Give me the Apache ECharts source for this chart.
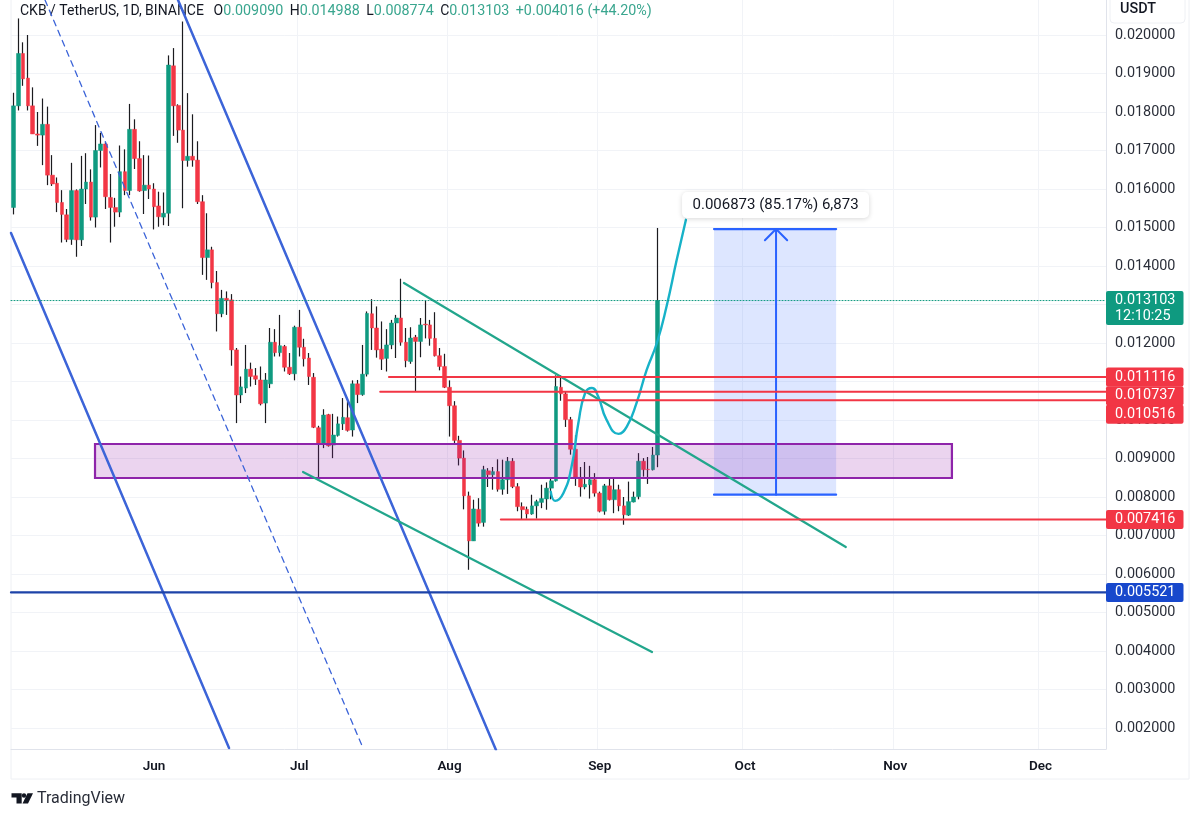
<!DOCTYPE html>
<html>
<head>
<meta charset="utf-8">
<title>CKB / TetherUS</title>
<script src="https://cdn.jsdelivr.net/npm/echarts@6/dist/echarts.min.js"></script>
<style>
html,body{margin:0;padding:0;background:#fff;}
#main{width:1200px;height:817px;}
</style>
</head>
<body>
<div id="main"></div>
<script>
// candles
var opens = [.01552,.01816,.01952,.01888,.01816,.01743,.01740,.01768,.01636,.01615,.01565,.01533,.01469,.01596,.01468,.01600,.01618,.01527,.01700,.01717,.01578,.01552,.01540,.01645,.01596,.01755,.01679,.01596,.01610,.01600,.01556,.01527,.01537,.01920,.01817,.01753,.01674,.01685,.01675,.01567,.01422,.01442,.01357,.01276,.01316,.01312,.01182,.01065,.01083,.01132,.01115,.01104,.01044,.01094,.01202,.01175,.01191,.01137,.01120,.01241,.01189,.01161,.01111,.00980,.00937,.01014,.00935,.00960,.00990,.01006,.00974,.01094,.01066,.01119,.01276,.01239,.01184,.01160,.01195,.01252,.01265,.01202,.01152,.01215,.01204,.01249,.01247,.01212,.01167,.01139,.01085,.01037,.00947,.00901,.00803,.00686,.00768,.00734,.00868,.00858,.00866,.00820,.00845,.00893,.00827,.00775,.00768,.00756,.00777,.00786,.00795,.00823,.00842,.01085,.01068,.01001,.00924,.00851,.00826,.00832,.00845,.00810,.00763,.00829,.00793,.00819,.00777,.00753,.00787,.00801,.00893,.00872,.00871,.009090];
var closes = [.01816,.01952,.01886,.01816,.01743,.01740,.01768,.01636,.01613,.01565,.01534,.01469,.01596,.01468,.01600,.01618,.01527,.01700,.01717,.01580,.01552,.01540,.01645,.01596,.01755,.01679,.01595,.01610,.01600,.01554,.01528,.01537,.01922,.01816,.01753,.01674,.01685,.01675,.01567,.01422,.01442,.01357,.01276,.01316,.01310,.01182,.01065,.01086,.01132,.01113,.01106,.01042,.01104,.01202,.01175,.01193,.01137,.01120,.01241,.01189,.01159,.01113,.00981,.00937,.01013,.00933,.00961,.00990,.01007,.00973,.01094,.01066,.01119,.01277,.01239,.01182,.01158,.01195,.01252,.01265,.01202,.01154,.01213,.01204,.01247,.01247,.01212,.01167,.01139,.01085,.01037,.00947,.00901,.00803,.00686,.00769,.00732,.00871,.00858,.00866,.00820,.00845,.00893,.00827,.00775,.00767,.00756,.00777,.00788,.00796,.00823,.00842,.01087,.01068,.01001,.00924,.00852,.00826,.00833,.00845,.00810,.00763,.00829,.00793,.00819,.00777,.00754,.00788,.00800,.00893,.00871,.00871,.00909,.013103];
var lows = [.01534,.01804,.01868,.01804,.01743,.01712,.01662,.01610,.01608,.01540,.01461,.01462,.01455,.01424,.01452,.01561,.01518,.01500,.01656,.01548,.01461,.01502,.01527,.01584,.01584,.01652,.01593,.01535,.01574,.01495,.01502,.01506,.01504,.01738,.01720,.01550,.01658,.01658,.01561,.01377,.01364,.01342,.01230,.01267,.01273,.01141,.00992,.01044,.01070,.01087,.01091,.01038,.00992,.01083,.01165,.01165,.01126,.01117,.01103,.01165,.01139,.01091,.00979,.00842,.00927,.00931,.00901,.00957,.00974,.00970,.00957,.01044,.01063,.01113,.01182,.01162,.01130,.01126,.01184,.01161,.01193,.01137,.01146,.01074,.01163,.01212,.01193,.01165,.01129,.01083,.00957,.00940,.00882,.00768,.00611,.00686,.00723,.00723,.00826,.00819,.00814,.00806,.00808,.00823,.00763,.00743,.00744,.00754,.00744,.00771,.00767,.00794,.00840,.01050,.00982,.00910,.00829,.00801,.00820,.00796,.00801,.00760,.00754,.00791,.00758,.00763,.00728,.00751,.00786,.00794,.00853,.00834,.00869,.008774];
var highs = [.01850,.02043,.01981,.02000,.01864,.01800,.01835,.01814,.01688,.01630,.01597,.01548,.01668,.01599,.01686,.01693,.01651,.01766,.01746,.01723,.01639,.01577,.01713,.01703,.01821,.01781,.01724,.01688,.01687,.01615,.01593,.01591,.01947,.01966,.01820,.02035,.01849,.01794,.01724,.01584,.01537,.01450,.01387,.01338,.01334,.01327,.01187,.01113,.01195,.01149,.01135,.01139,.01122,.01239,.01236,.01273,.01195,.01174,.01245,.01286,.01211,.01174,.01122,.00985,.01028,.01016,.01016,.01009,.01057,.01048,.01103,.01104,.01195,.01282,.01314,.01295,.01256,.01236,.01260,.01273,.01367,.01239,.01241,.01221,.01265,.01310,.01260,.01280,.01187,.01172,.01103,.01049,.00959,.00921,.00814,.00793,.00797,.00881,.00875,.00878,.00898,.00897,.00904,.00901,.00836,.00786,.00775,.00806,.00793,.00832,.00838,.00849,.01116,.01116,.01074,.01008,.00960,.00878,.00891,.00881,.00862,.00814,.00834,.00852,.00852,.00832,.00800,.00840,.00814,.00914,.00901,.00904,.00930,.014988];

var firstDay = '2024-05-03';
var dayCount = 226;
var monthNames = ['Jan','Feb','Mar','Apr','May','Jun','Jul','Aug','Sep','Oct','Nov','Dec'];
var yTicks = [.002,.003,.004,.005,.006,.007,.008,.009,.010,.011,.012,.013,.014,.015,.016,.017,.018,.019,.020];

// drawings, as [day index, price]
var channelLeft = [[-0.5,.014857],[44.5,.001481]];
var channelRight = [[33.97,.020909],[99.6,.00143]];
var channelMid = [[6.52,.020909],[72.15,.001481]];
var trendUpper = [[80.6,.013558],[171.8,.006701]];
var trendLower = [[59.77,.00865],[131.8,.003974]];
var cyanPath = [[110.9,.00814],[111.8,.0079],[113.5,.0081],[115.2,.00879],[116.6,.00992],[118,.0107],[119.4,.01083],[120.7,.01061],[122.4,.01001],[124.9,.00964],[126.6,.00983],[128.6,.01044],[130.7,.0113],[132.8,.012],[134.8,.01295],[136.9,.01416],[138.8,.0152]];

var redLevels = [.011116,.010737,.010516,.007416];
var redStarts = [77.5,75.7,114.3,100.6];
var blueLevel = .005521;
var lastPrice = .013103;

var zoneBox = [16.84,193.7,.009377,.008494];
var longBox = [144.6,169.8,.01496,.00806];
var arrowX = 157.4;
var arrowHead = [[155.1,.01467],[157.4,.01496],[159.7,.01467]];
var pillAt = [157.3,.015584];
var pillText = '0.006873 (85.17%) 6,873';

var tagPrices = [.010516,.010737,.011116,.007416,.005521];
var tagNudges = [14,4,0,0,0];
var tagColors = ['#f23645','#f23645','#f23645','#f23645','#1848cc'];

var upColor = '#0f9a80', downColor = '#f23645';
var uiFont = 'Roboto, Inter, sans-serif';

var days = [];
var d = new Date(firstDay + 'T00:00:00Z');
for (var i = 0; i < dayCount; i++) {
    days.push(d.toISOString().slice(0, 10));
    d.setUTCDate(d.getUTCDate() + 1);
}
function isMonthStart(idx, name) {
    return name.slice(8) === '01';
}

var wickData = [], bodyData = [];
for (var i = 0; i < opens.length; i++) {
    wickData.push([opens[i], closes[i], lows[i], highs[i]]);
    bodyData.push([opens[i], closes[i], Math.min(opens[i], closes[i]), Math.max(opens[i], closes[i])]);
}

// straight drawing on the hidden day-index axis
function drawing(points, color, width, type, smooth, z) {
    return {
        type: 'line', xAxisIndex: 1, yAxisIndex: 0, data: points, symbol: 'none', silent: true,
        smooth: smooth || false, z: z || 6, clip: true,
        lineStyle: {color: color, width: width, type: type || 'solid', cap: 'round'}
    };
}

function boxRender(fill, stroke, strokeWidth) {
    return function (params, api) {
        var a = api.coord([api.value(0), api.value(2)]);
        var b = api.coord([api.value(1), api.value(3)]);
        return {
            type: 'rect',
            shape: {x: a[0], y: a[1], width: b[0] - a[0], height: b[1] - a[1]},
            style: {fill: fill, stroke: stroke, lineWidth: strokeWidth}
        };
    };
}

function tagRender(params, api) {
    var p = api.coord([0, api.value(1)]);
    var left = params.coordSys.x + params.coordSys.width;
    var cy = p[1] + tagNudges[params.dataIndex];
    return {
        type: 'group',
        children: [
            {type: 'rect', shape: {x: left, y: cy - 9.5, width: 77.5, height: 19, r: 2}, style: {fill: tagColors[params.dataIndex]}},
            {type: 'text', style: {x: left + 9, y: cy, text: api.value(1).toFixed(6), fill: '#fff', font: '14.4px ' + uiFont, textVerticalAlign: 'middle'}}
        ]
    };
}

function lastTagRender(params, api) {
    var p = api.coord([0, api.value(1)]);
    var left = params.coordSys.x + params.coordSys.width;
    return {
        type: 'group',
        children: [
            {type: 'rect', shape: {x: left, y: p[1] - 9.5, width: 77.5, height: 34, r: 2}, style: {fill: upColor}},
            {type: 'text', style: {x: left + 9, y: p[1], text: api.value(1).toFixed(6), fill: '#fff', font: '14.4px ' + uiFont, textVerticalAlign: 'middle'}},
            {type: 'text', style: {x: left + 9, y: p[1] + 15.5, text: '12:10:25', fill: '#fff', font: '14.4px ' + uiFont, textVerticalAlign: 'middle'}}
        ]
    };
}

function pillRender(params, api) {
    var p = api.coord([api.value(0), api.value(1)]);
    return {
        type: 'group',
        children: [
            {type: 'rect', shape: {x: p[0] - 93.5, y: p[1] - 13, width: 187, height: 26, r: 5},
                style: {fill: '#fff', shadowBlur: 5, shadowColor: 'rgba(0,0,0,0.16)', shadowOffsetY: 1}},
            {type: 'text', style: {x: p[0], y: p[1], text: pillText, fill: '#131722', font: '15px ' + uiFont, textAlign: 'center', textVerticalAlign: 'middle'}}
        ]
    };
}

var series = [
    // black wicks under, coloured bodies on top
    {type: 'candlestick', data: wickData, barWidth: 1, z: 3, silent: true,
        itemStyle: {color: '#1b1b1f', color0: '#1b1b1f', borderColor: '#1b1b1f', borderColor0: '#1b1b1f', borderWidth: 1.2}},
    {type: 'candlestick', data: bodyData, barWidth: 4.2, z: 4, silent: true,
        itemStyle: {color: upColor, color0: downColor, borderColor: upColor, borderColor0: downColor, borderWidth: 0.5}},

    {type: 'custom', xAxisIndex: 1, yAxisIndex: 0, renderItem: boxRender('rgba(41,98,255,0.16)', 'none', 0), data: [longBox], z: 5, silent: true,
        encode: {x: [0, 1], y: [2, 3]}},
    {type: 'custom', xAxisIndex: 1, yAxisIndex: 0, renderItem: boxRender('rgba(156,39,176,0.2)', '#8e24aa', 2.2), data: [zoneBox], z: 5, silent: true,
        encode: {x: [0, 1], y: [2, 3]}},

    drawing(channelLeft, '#3c64d8', 2.5),
    drawing(channelRight, '#3c64d8', 2.5),
    drawing(channelMid, '#3c64d8', 1.3, [6, 5]),
    drawing(trendUpper, '#22a68c', 2.2),
    drawing(trendLower, '#22a68c', 2.2),
    drawing(cyanPath, '#17b2c8', 2.4, 'solid', 0.5),

    drawing([[-0.5, lastPrice], [225.5, lastPrice]], upColor, 1, [1, 2]),
    drawing([[-0.5, blueLevel], [225.5, blueLevel]], '#1d43a8', 2.2),
    drawing([[longBox[0], longBox[2]], [longBox[1], longBox[2]]], '#2962ff', 2.2),
    drawing([[longBox[0], longBox[3]], [longBox[1], longBox[3]]], '#2962ff', 2.2),
    drawing([[arrowX, longBox[3]], [arrowX, longBox[2]]], '#2962ff', 2),
    drawing(arrowHead, '#2962ff', 2)
];
for (var i = 0; i < redLevels.length; i++) {
    series.push(drawing([[redStarts[i], redLevels[i]], [225.5, redLevels[i]]], downColor, 2));
}
series.push({type: 'custom', xAxisIndex: 1, yAxisIndex: 0, renderItem: pillRender, data: [pillAt], z: 8, silent: true, encode: {x: 0, y: 1}});
series.push({type: 'custom', xAxisIndex: 1, yAxisIndex: 0, renderItem: tagRender, z: 10, silent: true, encode: {x: 0, y: 1},
    data: tagPrices.map(function (p) { return [0, p]; })});
series.push({type: 'custom', xAxisIndex: 1, yAxisIndex: 0, renderItem: lastTagRender, z: 10, silent: true, encode: {x: 0, y: 1},
    data: [[0, lastPrice]]});

var chart = echarts.init(document.getElementById('main'), null, {renderer: 'canvas'});
var option = {
    animation: false,
    backgroundColor: '#fff',
    textStyle: {fontFamily: uiFont},
    title: {
        left: 15, top: -1,
        text: '{k|CKB / TetherUS, 1D, BINANCE}   {k|O}{v|0.009090}  {k|H}{v|0.014988}  {k|L}{v|0.008774}  {k|C}{v|0.013103}  {v|+0.004016 (+44.20%)}',
        textStyle: {
            fontSize: 13, fontWeight: 'normal',
            rich: {
                k: {color: '#131722', fontSize: 14, fontWeight: 'normal', fontFamily: uiFont},
                v: {color: '#3aa68f', fontSize: 14.3, fontWeight: 'normal', fontFamily: uiFont}
            }
        }
    },
    grid: {left: 11, right: 94, top: 0, bottom: 68},
    xAxis: [
        {
            type: 'category', data: days, boundaryGap: true,
            axisLine: {lineStyle: {color: '#e0e3eb'}},
            axisTick: {show: false},
            axisLabel: {
                interval: isMonthStart, margin: 11, color: '#131722', fontWeight: 600, fontSize: 13.5, fontFamily: uiFont,
                formatter: function (v) { return monthNames[+v.slice(5, 7) - 1]; }
            },
            splitLine: {show: true, interval: isMonthStart, showMinLine: false, lineStyle: {color: '#f1f3f7'}}
        },
        {type: 'value', min: -0.5, max: dayCount - 0.5, show: false}
    ],
    yAxis: [{
        type: 'value', position: 'right', min: .001455, max: .020909, scale: true,
        axisLine: {show: true, onZero: false, lineStyle: {color: '#e0e3eb'}},
        axisTick: {show: false, customValues: yTicks},
        axisLabel: {
            customValues: yTicks, margin: 9, color: '#2a2e39', fontSize: 14.4, fontFamily: uiFont, padding: [4, 0, 0, 0],
            formatter: function (v) { return v.toFixed(6); }
        },
        splitLine: {show: true, lineStyle: {color: '#f1f3f7'}}
    }],
    series: series,
    graphic: [
        {type: 'rect', silent: true, z: 0, shape: {x: 11, y: -2, width: 1178, height: 781}, style: {fill: 'none', stroke: '#eef0f4', lineWidth: 1}},
        {type: 'rect', silent: true, z: 1, shape: {x: 1110, y: -6, width: 75, height: 29, r: 4}, style: {fill: '#fff', stroke: '#eef0f4', lineWidth: 1}},
        {type: 'text', silent: true, z: 2, style: {x: 1120, y: 9, text: 'USDT', fill: '#131722', font: '500 14.4px ' + uiFont, textVerticalAlign: 'middle'}},
        // TradingView mark
        {type: 'polygon', silent: true, shape: {points: [[11.5,793.3],[21.7,793.3],[21.7,803.5],[16.5,803.5],[16.5,797.5],[11.5,797.5]]}, style: {fill: '#131722'}},
        {type: 'circle', silent: true, shape: {cx: 24, cy: 795.5, r: 2.2}, style: {fill: '#131722'}},
        {type: 'polygon', silent: true, shape: {points: [[27.5,793.3],[33,793.3],[28,803.5],[22.5,803.5]]}, style: {fill: '#131722'}},
        {type: 'text', silent: true, style: {x: 37, y: 798.5, text: 'TradingView', fill: '#2a2e39', font: '400 16px ' + uiFont, textVerticalAlign: 'middle'}}
    ]
};
chart.setOption(option);
</script>
</body>
</html>
